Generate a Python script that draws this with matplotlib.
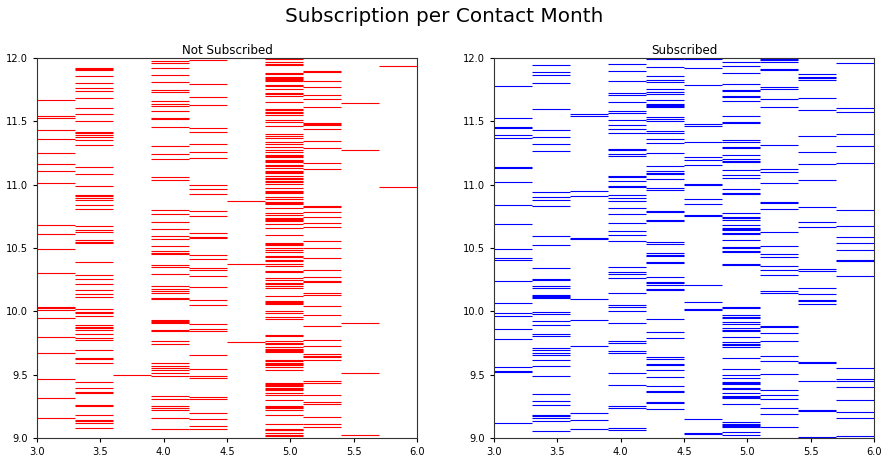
import matplotlib.pyplot as plt

# bin edges along the x axis (contact month scale)
x_edges = [3.0, 3.3, 3.6, 3.9, 4.2, 4.5, 4.8, 5.1, 5.4, 5.7, 6.0]

# y levels of the horizontal marks in each bin, "Not Subscribed"
no_levels = [
    [11.67, 11.54, 11.53, 11.43, 11.36, 11.25, 11.16, 11.11, 11.01, 10.68, 10.61, 10.49, 10.30,
     10.034, 10.024, 10.008, 9.947, 9.795, 9.668, 9.463, 9.313, 9.155],
    [11.924, 11.911, 11.903, 11.855, 11.800, 11.761, 11.739, 11.682, 11.603, 11.555, 11.500, 11.418,
     11.405, 11.392, 11.376, 11.350, 11.311, 11.137, 11.082, 10.987, 10.916, 10.908, 10.892, 10.876,
     10.837, 10.805, 10.671, 10.642, 10.629, 10.561, 10.545, 10.537, 10.387, 10.284, 10.253, 10.213,
     10.166, 10.134, 10.111, 10.016, 9.997, 9.984, 9.961, 9.889, 9.876, 9.866, 9.850, 9.818, 9.787,
     9.776, 9.692, 9.632, 9.621, 9.589, 9.439, 9.392, 9.363, 9.353, 9.261, 9.250, 9.179, 9.142,
     9.132, 9.116, 9.076],
    [9.495],
    [11.976, 11.961, 11.918, 11.863, 11.808, 11.745, 11.729, 11.658, 11.634, 11.618, 11.579, 11.526,
     11.516, 11.453, 11.303, 11.239, 11.200, 11.058, 11.034, 10.797, 10.766, 10.703, 10.647, 10.592,
     10.571, 10.513, 10.474, 10.461, 10.450, 10.363, 10.347, 10.292, 10.197, 10.174, 10.158, 10.147,
     10.105, 10.095, 9.932, 9.924, 9.916, 9.911, 9.855, 9.845, 9.763, 9.739, 9.589, 9.566, 9.550,
     9.534, 9.511, 9.487, 9.329, 9.305, 9.250, 9.234, 9.218, 9.155, 9.068],
    [11.982, 11.792, 11.689, 11.626, 11.445, 11.413, 11.318, 11.255, 11.208, 10.995, 10.963, 10.924,
     10.789, 10.750, 10.616, 10.587, 10.576, 10.442, 10.411, 10.339, 10.329, 10.276, 10.189, 10.087,
     10.047, 9.897, 9.858, 9.842, 9.653, 9.542, 9.487, 9.471, 9.321, 9.305, 9.195, 9.147, 9.092, 9.068],
    [10.871, 10.371, 9.755],
    [11.998, 11.992, 11.968, 11.953, 11.942, 11.884, 11.874, 11.850, 11.842, 11.834, 11.826, 11.821,
     11.787, 11.776, 11.755, 11.724, 11.713, 11.697, 11.650, 11.600, 11.589, 11.576, 11.566, 11.547,
     11.508, 11.492, 11.463, 11.397, 11.382, 11.366, 11.334, 11.324, 11.295, 11.276, 11.261, 11.234,
     11.226, 11.216, 11.192, 11.184, 11.176, 11.155, 11.145, 11.129, 11.111, 11.100, 11.092, 11.071,
     11.055, 11.045, 11.029, 11.018, 11.003, 10.971, 10.950, 10.942, 10.934, 10.903, 10.887, 10.863,
     10.855, 10.845, 10.816, 10.776, 10.758, 10.737, 10.729, 10.721, 10.713, 10.687, 10.658, 10.603,
     10.537, 10.529, 10.521, 10.503, 10.482, 10.466, 10.437, 10.426, 10.405, 10.395, 10.376, 10.355,
     10.318, 10.308, 10.261, 10.245, 10.224, 10.213, 10.197, 10.182, 10.118, 10.082, 10.074, 10.066,
     10.055, 10.000, 9.984, 9.955, 9.939, 9.813, 9.803, 9.763, 9.750, 9.739, 9.718, 9.705, 9.692,
     9.687, 9.676, 9.618, 9.608, 9.595, 9.587, 9.576, 9.561, 9.537, 9.434, 9.426, 9.418, 9.411,
     9.397, 9.387, 9.376, 9.355, 9.339, 9.300, 9.255, 9.245, 9.234, 9.221, 9.182, 9.113, 9.074,
     9.066, 9.061, 9.039, 9.026, 9.016],
    [11.897, 11.887, 11.816, 11.768, 11.705, 11.674, 11.611, 11.487, 11.479, 11.471, 11.437, 11.342,
     11.287, 11.168, 11.121, 10.832, 10.821, 10.782, 10.742, 10.695, 10.663, 10.553, 10.497, 10.418,
     10.324, 10.268, 10.239, 10.229, 10.142, 10.126, 10.039, 9.968, 9.882, 9.771, 9.724, 9.661,
     9.647, 9.637, 9.613, 9.447, 9.432, 9.337, 9.282, 9.266, 9.163, 9.108, 9.084],
    [11.642, 11.271, 9.905, 9.511, 9.021],
    [11.934, 10.979],
]

# y levels of the horizontal marks in each bin, "Subscribed"
yes_levels = [
    [11.776, 11.524, 11.455, 11.445, 11.389, 11.368, 11.139, 11.129, 11.018, 10.837, 10.687, 10.492,
     10.418, 10.408, 10.237, 10.063, 9.984, 9.961, 9.858, 9.779, 9.558, 9.529, 9.518, 9.118],
    [11.942, 11.887, 11.863, 11.800, 11.595, 11.429, 11.374, 11.318, 11.263, 10.939, 10.900, 10.876,
     10.829, 10.592, 10.521, 10.339, 10.255, 10.245, 10.197, 10.187, 10.126, 10.118, 10.111, 10.103,
     9.992, 9.976, 9.921, 9.889, 9.818, 9.805, 9.708, 9.697, 9.668, 9.655, 9.613, 9.566, 9.487,
     9.345, 9.289, 9.258, 9.182, 9.171, 9.161, 9.132, 9.053],
    [11.555, 11.545, 10.947, 10.908, 10.579, 10.568, 10.095, 9.929, 9.724, 9.195, 9.139, 9.068],
    [11.950, 11.895, 11.816, 11.721, 11.705, 11.650, 11.579, 11.563, 11.508, 11.468, 11.437, 11.405,
     11.282, 11.271, 11.239, 11.224, 11.071, 11.058, 11.026, 10.989, 10.979, 10.916, 10.892, 10.868,
     10.813, 10.766, 10.695, 10.632, 10.600, 10.553, 10.347, 10.308, 10.295, 10.261, 10.142, 10.047,
     10.037, 10.000, 9.905, 9.768, 9.747, 9.684, 9.674, 9.511, 9.416, 9.250, 9.239, 9.079, 9.063],
    [11.995, 11.926, 11.855, 11.824, 11.808, 11.753, 11.729, 11.713, 11.666, 11.639, 11.632, 11.624,
     11.616, 11.532, 11.518, 11.500, 11.421, 11.411, 11.358, 11.326, 11.247, 11.145, 11.105, 11.092,
     11.082, 11.042, 10.971, 10.955, 10.792, 10.782, 10.721, 10.711, 10.545, 10.532, 10.458, 10.445,
     10.434, 10.389, 10.379, 10.268, 10.232, 10.221, 10.211, 10.176, 10.166, 9.937, 9.834, 9.787,
     9.637, 9.621, 9.584, 9.574, 9.534, 9.479, 9.408, 9.371, 9.361, 9.284, 9.274, 9.226],
    [11.995, 11.918, 11.784, 11.476, 11.461, 11.334, 11.216, 11.192, 11.153, 11.005, 10.995, 10.884,
     10.845, 10.761, 10.750, 10.205, 10.071, 10.018, 10.008, 9.147, 9.039, 9.029],
    [11.966, 11.934, 11.879, 11.792, 11.747, 11.737, 11.700, 11.689, 11.658, 11.539, 11.495, 11.484,
     11.350, 11.339, 11.297, 11.287, 11.232, 11.205, 11.187, 11.176, 11.113, 11.074, 11.050, 10.963,
     10.934, 10.924, 10.774, 10.745, 10.734, 10.724, 10.679, 10.658, 10.650, 10.642, 10.618, 10.608,
     10.561, 10.508, 10.497, 10.476, 10.466, 10.374, 10.363, 10.034, 10.024, 9.968, 9.958, 9.947,
     9.913, 9.897, 9.866, 9.853, 9.842, 9.797, 9.755, 9.742, 9.732, 9.718, 9.629, 9.545, 9.495,
     9.474, 9.442, 9.434, 9.426, 9.395, 9.384, 9.355, 9.329, 9.321, 9.313, 9.266, 9.124, 9.111,
     9.103, 9.095, 9.089, 9.045, 9.021],
    [11.989, 11.982, 11.971, 11.913, 11.903, 11.768, 11.758, 11.674, 11.611, 11.311, 11.121, 11.097,
     11.011, 10.863, 10.853, 10.805, 10.624, 10.513, 10.450, 10.426, 10.355, 10.324, 10.284, 10.158,
     10.147, 9.884, 9.874, 9.826, 9.763, 9.645, 9.605, 9.503, 9.376, 9.337, 9.305, 9.234, 9.187, 9.084],
    [11.871, 11.847, 11.839, 11.829, 11.682, 11.587, 11.382, 11.255, 11.161, 11.034, 10.821, 10.703,
     10.663, 10.332, 10.316, 10.182, 10.134, 10.089, 10.079, 10.055, 9.600, 9.589, 9.447, 9.221,
     9.211, 9.011, 9.003],
    [11.958, 11.603, 11.571, 11.397, 11.303, 11.168, 10.797, 10.671, 10.584, 10.537, 10.482, 10.405,
     10.395, 10.276, 9.550, 9.463, 9.453, 9.400, 9.297, 9.203, 9.155, 9.013],
]

panels = [("Not Subscribed", no_levels, "red"), ("Subscribed", yes_levels, "blue")]

fig = plt.figure(figsize=(8.88, 4.62), dpi=100)
fig.suptitle("Subscription per Contact Month", fontsize=14.4, y=0.985)

lefts = [0.0417, 0.5563]
for (title, levels, color), left in zip(panels, lefts):
    ax = fig.add_axes([left, 0.052, 0.428, 0.8225])
    for i, ys in enumerate(levels):
        ax.hlines(ys, x_edges[i], x_edges[i + 1], colors=color, linewidth=0.8)
    ax.set_xlim(3.0, 6.0)
    ax.set_ylim(9.0, 12.0)
    ax.set_xticks([3.0, 3.5, 4.0, 4.5, 5.0, 5.5, 6.0])
    ax.set_yticks([9.0, 9.5, 10.0, 10.5, 11.0, 11.5, 12.0])
    ax.tick_params(labelsize=7.1, length=3)
    ax.set_title(title, fontsize=8.6, pad=3)
    for s in ax.spines.values():
        s.set_color("#333333")

fig.savefig("out.png", dpi=100)
